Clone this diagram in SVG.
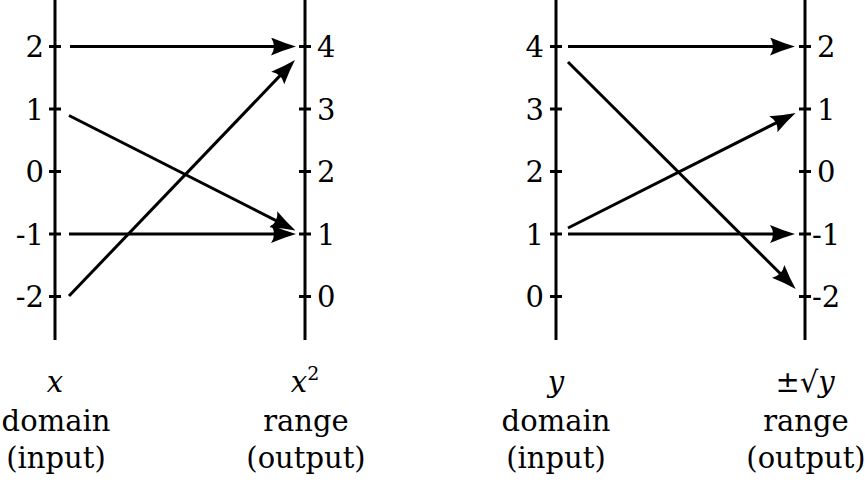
<svg xmlns="http://www.w3.org/2000/svg" width="865" height="485" viewBox="0 0 865 485">
<defs>
<style>
.ax{stroke:#000;stroke-width:3;fill:none}
.ar{stroke:#000;stroke-width:3;fill:none;marker-end:url(#ah)}
text{font-family:"DejaVu Serif","Liberation Serif",serif;font-size:29px;fill:#000}
.e{text-anchor:end}
.m{text-anchor:middle}
.i{font-style:italic}
</style>
<marker id="ah" viewBox="0 0 25 18" markerWidth="25" markerHeight="18" markerUnits="userSpaceOnUse" refX="12" refY="9" orient="auto">
<path d="M25,9 Q13,5.5 0,0 Q6,9 0,18 Q13,12.5 25,9 Z" fill="#000"/>
</marker>
</defs>
<rect width="865" height="485" fill="#fff"/>

<g id="axis-x">
<path class="ax" d="M55,0 V340 M49,46.5 H61 M49,109 H61 M49,171.5 H61 M49,234 H61 M49,296.5 H61"/>
<text class="e" x="44" y="57">2</text>
<text class="e" x="44" y="119.5">1</text>
<text class="e" x="44" y="182">0</text>
<text class="e" x="44" y="244.5">-1</text>
<text class="e" x="44" y="307">-2</text>
<text class="m i" x="55" y="392">x</text>
<text class="m" x="56" y="431">domain</text>
<text class="m" x="56" y="468">(input)</text>
</g>

<g id="axis-x2">
<path class="ax" d="M305,0 V340 M299,46.5 H311 M299,109 H311 M299,171.5 H311 M299,234 H311 M299,296.5 H311"/>
<text x="317" y="57">4</text>
<text x="317" y="119.5">3</text>
<text x="317" y="182">2</text>
<text x="317" y="244.5">1</text>
<text x="317" y="307">0</text>
<text class="m" x="305" y="392"><tspan class="i">x</tspan><tspan font-size="19" dy="-12">2</tspan></text>
<text class="m" x="306" y="431">range</text>
<text class="m" x="306" y="468">(output)</text>
</g>

<g id="axis-y">
<path class="ax" d="M556,0 V340 M550,46.5 H562 M550,109 H562 M550,171.5 H562 M550,234 H562 M550,296.5 H562"/>
<text class="e" x="544" y="57">4</text>
<text class="e" x="544" y="119.5">3</text>
<text class="e" x="544" y="182">2</text>
<text class="e" x="544" y="244.5">1</text>
<text class="e" x="544" y="307">0</text>
<text class="m i" x="556" y="392">y</text>
<text class="m" x="556" y="431">domain</text>
<text class="m" x="556" y="468">(input)</text>
</g>

<g id="axis-sqrt">
<path class="ax" d="M805,0 V340 M799,46.5 H811 M799,109 H811 M799,171.5 H811 M799,234 H811 M799,296.5 H811"/>
<text x="817" y="57">2</text>
<text x="817" y="119.5">1</text>
<text x="817" y="182">0</text>
<text x="812" y="244.5">-1</text>
<text x="812" y="307">-2</text>
<text class="m" x="805" y="392">±√<tspan class="i">y</tspan></text>
<text class="m" x="806" y="431">range</text>
<text class="m" x="806" y="468">(output)</text>
</g>

<g id="connectors">
<path class="ar" d="M70,46.5 L283,46.5"/>
<path class="ar" d="M69,115.5 L283.9,224.6"/>
<path class="ar" d="M69,234 L283,234"/>
<path class="ar" d="M69,296 L286,69.4"/>
<path class="ar" d="M568,46.5 L782,46.5"/>
<path class="ar" d="M568,62 L786.5,279.8"/>
<path class="ar" d="M568,228 L784,118.9"/>
<path class="ar" d="M568,234 L782,234"/>
</g>
</svg>
